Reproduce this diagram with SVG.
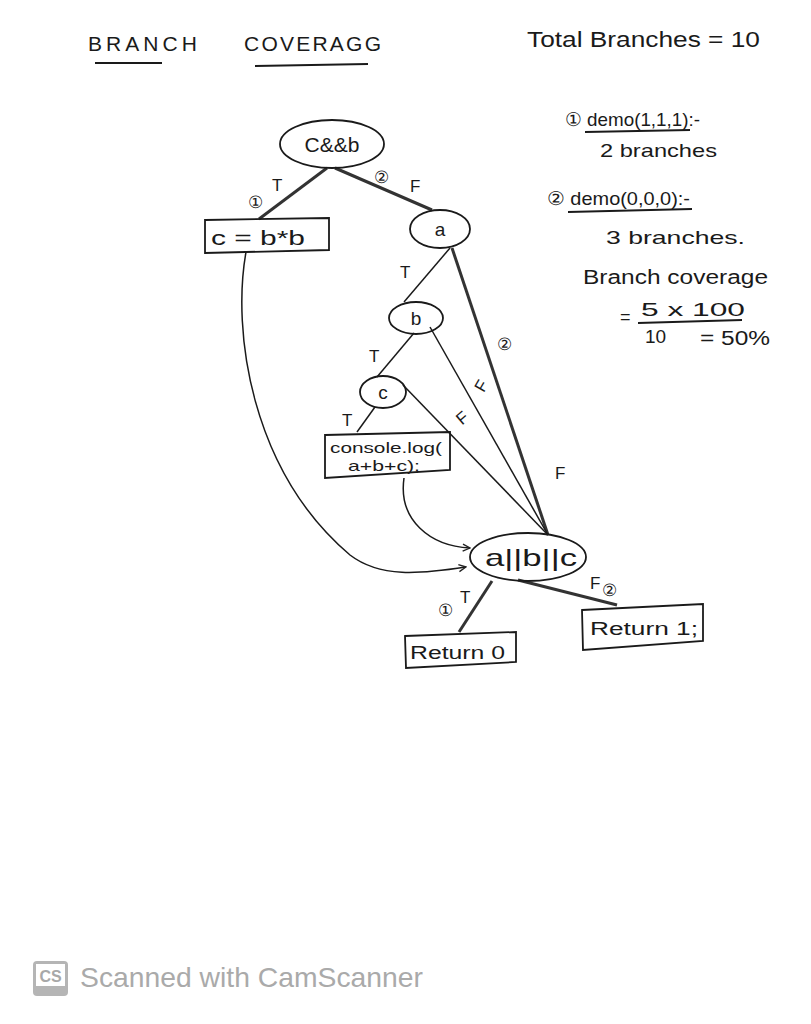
<svg xmlns="http://www.w3.org/2000/svg" width="811" height="1024" viewBox="0 0 811 1024">
<defs>
<marker id="arr" viewBox="0 0 10 10" refX="9" refY="5" markerWidth="9" markerHeight="9" orient="auto" markerUnits="userSpaceOnUse">
<path d="M1,1 L9,5 L1,9" fill="none" stroke="#222" stroke-width="1.5"/>
</marker>
</defs>
<style>
.t{font-family:"Liberation Sans",Arial,sans-serif;fill:#1a1a1a}
.n{fill:none;stroke:#1a1a1a;stroke-width:1.8}
.e{fill:none;stroke:#1a1a1a;stroke-width:1.5}
.thick{fill:none;stroke:#333;stroke-width:3}
.lbl{font-family:"Liberation Sans",Arial,sans-serif;font-size:17px;fill:#1a1a1a}
.u{stroke:#1a1a1a;stroke-width:1.8}
</style>
<rect width="811" height="1024" fill="#ffffff"/>

<g id="title">
<text class="t" x="88" y="51" font-size="21" textLength="109" lengthAdjust="spacing">BRANCH</text>
<line class="u" x1="95" y1="63" x2="162" y2="63"/>
<text class="t" x="244" y="51" font-size="21" textLength="137" lengthAdjust="spacing">COVERAGG</text>
<line class="u" x1="255" y1="66" x2="368" y2="64"/>
<text class="t" x="527" y="47" font-size="22" textLength="233" lengthAdjust="spacingAndGlyphs">Total Branches = 10</text>
</g>

<g id="notes">
<text class="t" x="565" y="126" font-size="19" textLength="135" lengthAdjust="spacingAndGlyphs">① demo(1,1,1):-</text>
<line class="u" x1="585" y1="132" x2="690" y2="130"/>
<text class="t" x="600" y="157" font-size="19" textLength="117" lengthAdjust="spacingAndGlyphs">2 branches</text>
<text class="t" x="547" y="205" font-size="19" textLength="143" lengthAdjust="spacingAndGlyphs">② demo(0,0,0):-</text>
<line class="u" x1="568" y1="212" x2="692" y2="209"/>
<text class="t" x="606" y="244" font-size="19" textLength="139" lengthAdjust="spacingAndGlyphs">3 branches.</text>
<text class="t" x="583" y="284" font-size="20" textLength="185" lengthAdjust="spacingAndGlyphs">Branch coverage</text>
<text class="t" x="620" y="323" font-size="18">=</text>
<text class="t" x="641" y="316" font-size="19" textLength="104" lengthAdjust="spacingAndGlyphs">5 x 100</text>
<line class="u" x1="638" y1="323" x2="742" y2="320"/>
<text class="t" x="645" y="343" font-size="19">10</text>
<text class="t" x="700" y="345" font-size="20" textLength="70" lengthAdjust="spacingAndGlyphs">= 50%</text>
</g>

<g id="connectors">
<line class="thick" x1="327" y1="168" x2="259" y2="219"/>
<line class="thick" x1="335" y1="168" x2="432" y2="210"/>
<line class="e" x1="450" y1="248" x2="404" y2="302"/>
<line class="thick" x1="452" y1="248" x2="548" y2="535"/>
<line class="e" x1="430" y1="327" x2="548" y2="535"/>
<line class="e" x1="403" y1="385" x2="548" y2="535"/>
<line class="e" x1="414" y1="333" x2="377" y2="377"/>
<line class="e" x1="375" y1="407" x2="357" y2="432"/>
<path class="e" d="M246,252 C232,330 250,470 350,555 C380,578 420,574 466,567" marker-end="url(#arr)"/>
<path class="e" d="M404,478 C398,520 430,546 470,548" marker-end="url(#arr)"/>
<line class="thick" x1="492" y1="581" x2="459" y2="632"/>
<line class="thick" x1="518" y1="580" x2="617" y2="605"/>
<text class="lbl" x="248" y="208">①</text>
<text class="lbl" x="272" y="191">T</text>
<text class="lbl" x="374" y="183">②</text>
<text class="lbl" x="410" y="192">F</text>
<text class="lbl" x="400" y="278">T</text>
<text class="lbl" x="497" y="350">②</text>
<text class="lbl" x="476" y="392" transform="rotate(-60 481 386)">F</text>
<text class="lbl" x="457" y="424" transform="rotate(-40 462 418)">F</text>
<text class="lbl" x="555" y="479">F</text>
<text class="lbl" x="369" y="362">T</text>
<text class="lbl" x="342" y="426">T</text>
<text class="lbl" x="438" y="616">①</text>
<text class="lbl" x="460" y="603">T</text>
<text class="lbl" x="590" y="589">F</text>
<text class="lbl" x="602" y="596">②</text>
</g>

<g id="node-cab">
<ellipse class="n" cx="332" cy="144" rx="52" ry="24"/>
<text class="t" x="332" y="152" font-size="21" text-anchor="middle">C&amp;&amp;b</text>
</g>
<g id="node-c-assign">
<path class="n" d="M205,220 L329,218 L329,250 L205,253 Z"/>
<text class="t" x="211" y="245" font-size="21" textLength="94" lengthAdjust="spacingAndGlyphs">c = b*b</text>
</g>
<g id="node-a">
<ellipse class="n" cx="440" cy="229" rx="30" ry="19"/>
<text class="t" x="440" y="236" font-size="19" text-anchor="middle">a</text>
</g>
<g id="node-b">
<ellipse class="n" cx="416" cy="318" rx="27" ry="16"/>
<text class="t" x="416" y="325" font-size="19" text-anchor="middle">b</text>
</g>
<g id="node-c">
<ellipse class="n" cx="383" cy="392" rx="23" ry="16"/>
<text class="t" x="383" y="399" font-size="19" text-anchor="middle">c</text>
</g>
<g id="node-console">
<path class="n" d="M325,435 L450,432 L450,470 L325,478 Z"/>
<text class="t" x="330" y="453" font-size="15" textLength="112" lengthAdjust="spacingAndGlyphs">console.log(</text>
<text class="t" x="348" y="471" font-size="15" textLength="72" lengthAdjust="spacingAndGlyphs">a+b+c);</text>
</g>
<g id="node-abc">
<ellipse class="n" cx="528" cy="557" rx="58" ry="24"/>
<text class="t" x="485" y="566" font-size="24" textLength="92" lengthAdjust="spacingAndGlyphs">a||b||c</text>
</g>
<g id="node-ret0">
<path class="n" d="M405,636 L516,632 L516,662 L406,668 Z"/>
<text class="t" x="410" y="659" font-size="18" textLength="95" lengthAdjust="spacingAndGlyphs">Return 0</text>
</g>
<g id="node-ret1">
<path class="n" d="M582,610 L703,604 L703,641 L583,650 Z"/>
<text class="t" x="590" y="635" font-size="18" textLength="108" lengthAdjust="spacingAndGlyphs">Return 1;</text>
</g>

<g id="watermark">
<rect x="33" y="961" width="35" height="35" rx="4" fill="#b5b5b5"/>
<rect x="36" y="964" width="29" height="22" fill="#ffffff"/>
<text x="50.5" y="982" font-family="Liberation Sans,Arial,sans-serif" font-size="16" font-weight="bold" fill="#a8a8a8" text-anchor="middle">CS</text>
<text x="80" y="987" font-family="Liberation Sans,Arial,sans-serif" font-size="28" fill="#aaaaaa" textLength="343" lengthAdjust="spacingAndGlyphs">Scanned with CamScanner</text>
</g>
</svg>
